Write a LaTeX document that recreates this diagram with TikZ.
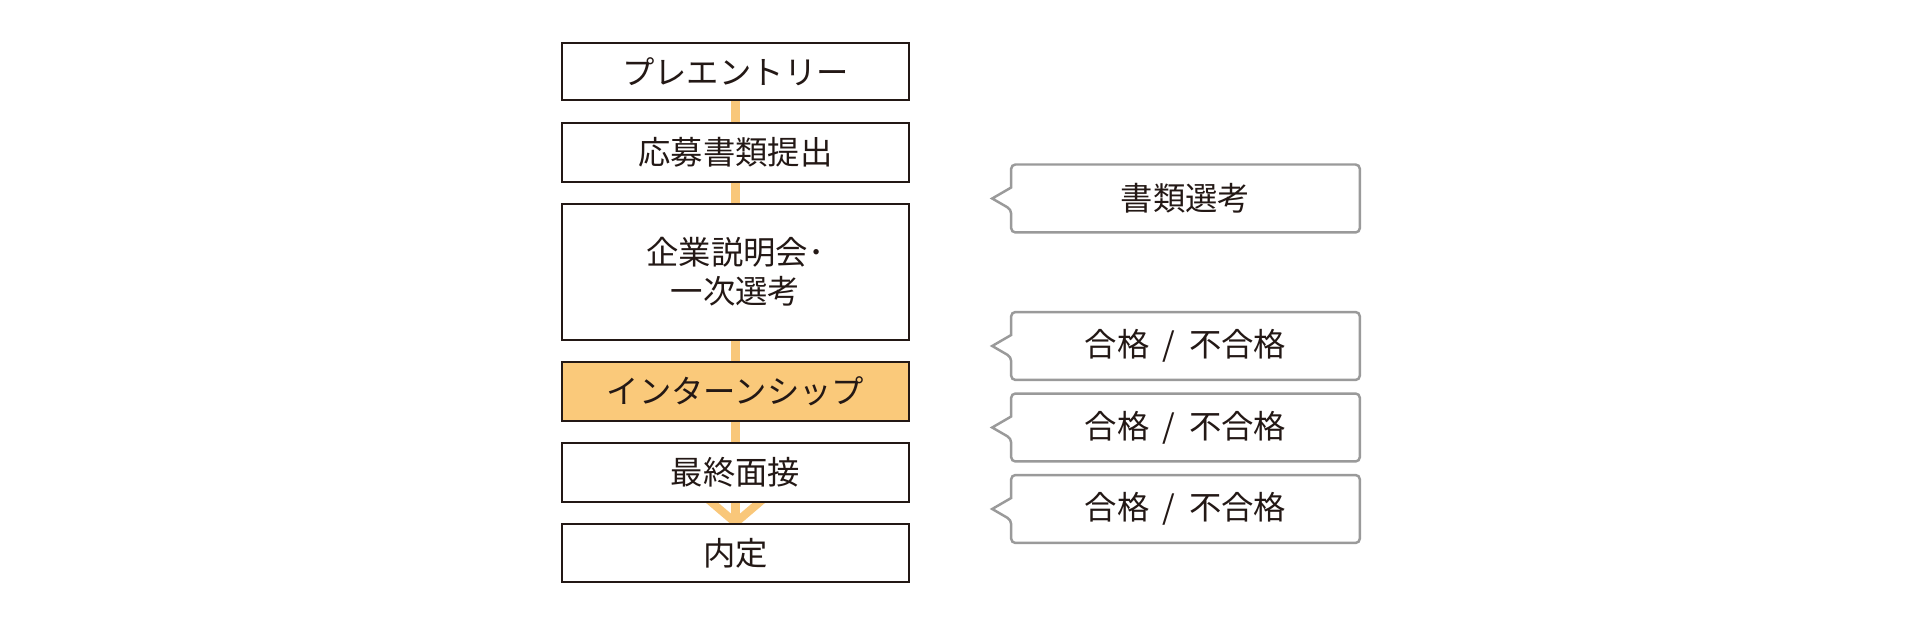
\documentclass[tikz,border=0pt]{standalone}
\usepackage{fontspec}
\newfontfamily\cjk{Noto Sans CJK JP}
\usetikzlibrary{calc,backgrounds}
\definecolor{boxline}{HTML}{231815}
\definecolor{flowline}{HTML}{F9C77A}
\definecolor{hlfill}{HTML}{FAC97A}
\definecolor{callline}{HTML}{9A9A9A}
\tikzset{
  stepbox/.style={draw=boxline, line width=0.7pt, fill=white, rectangle, inner sep=0pt,
    minimum width=3.47cm, text=boxline, align=center,
    font=\cjk\fontsize{9.2pt}{11.1pt}\selectfont},
  hlbox/.style={stepbox, fill=hlfill},
  calltext/.style={rectangle, inner sep=0pt, minimum width=3.47cm, minimum height=0.665cm,
    text=boxline, font=\cjk\fontsize{9.2pt}{11.1pt}\selectfont},
  callborder/.style={draw=callline, line width=0.7pt},
  flow/.style={draw=flowline, line width=2.3pt}
}
\newcommand{\callshape}[1]{%
  \draw[callborder] ($(#1.west)+(0,-11)$) [rounded corners=1.2pt] -- (#1.north west) -- (#1.north east)
    -- (#1.south east) -- (#1.south west) -- ($(#1.west)+(0,11)$) [sharp corners]
    -- ($(#1.west)+(-19,0)$) -- cycle;}
\newcommand{\slashsep}{\hspace{0.42em}/\hspace{0.42em}}
\begin{document}
\begin{tikzpicture}[x=0.01cm, y=-0.01cm]
\useasboundingbox (0,0) rectangle (1920,625);
% left flow
\node[stepbox, minimum height=0.57cm] (b1) at (735.5,71.5) {プレエントリー};
\node[stepbox, minimum height=0.59cm] (b2) at (735.5,152.5) {応募書類提出};
\node[stepbox, minimum height=1.36cm] (b3) at (735.5,272) {企業説明会･\\一次選考};
\node[hlbox, minimum height=0.59cm] (b4) at (735.5,391.5) {インターンシップ};
\node[stepbox, minimum height=0.59cm] (b5) at (735.5,472.5) {最終面接};
\node[stepbox, minimum height=0.58cm] (b6) at (735.5,553) {内定};
\begin{scope}[on background layer]
  \fill[white] (0,0) rectangle (1920,625);
  \draw[flow] (b1.south) -- (b2.north);
  \draw[flow] (b2.south) -- (b3.north);
  \draw[flow] (b3.south) -- (b4.north);
  \draw[flow] (b4.south) -- (b5.north);
  \draw[flow] (b5.south) -- (b6.north);
  \draw[flow] ($(b6.north)+(-27,-23)$) -- (b6.north) -- ($(b6.north)+(27,-23)$);
\end{scope}
% callouts
\node[calltext] (c1) at (1185.5,198.5) {書類選考};
\node[calltext] (c2) at (1185.5,346) {合格\slashsep 不合格};
\node[calltext] (c3) at (1185.5,427.5) {合格\slashsep 不合格};
\node[calltext] (c4) at (1185.5,509) {合格\slashsep 不合格};
\callshape{c1}
\callshape{c2}
\callshape{c3}
\callshape{c4}
\end{tikzpicture}
\end{document}
